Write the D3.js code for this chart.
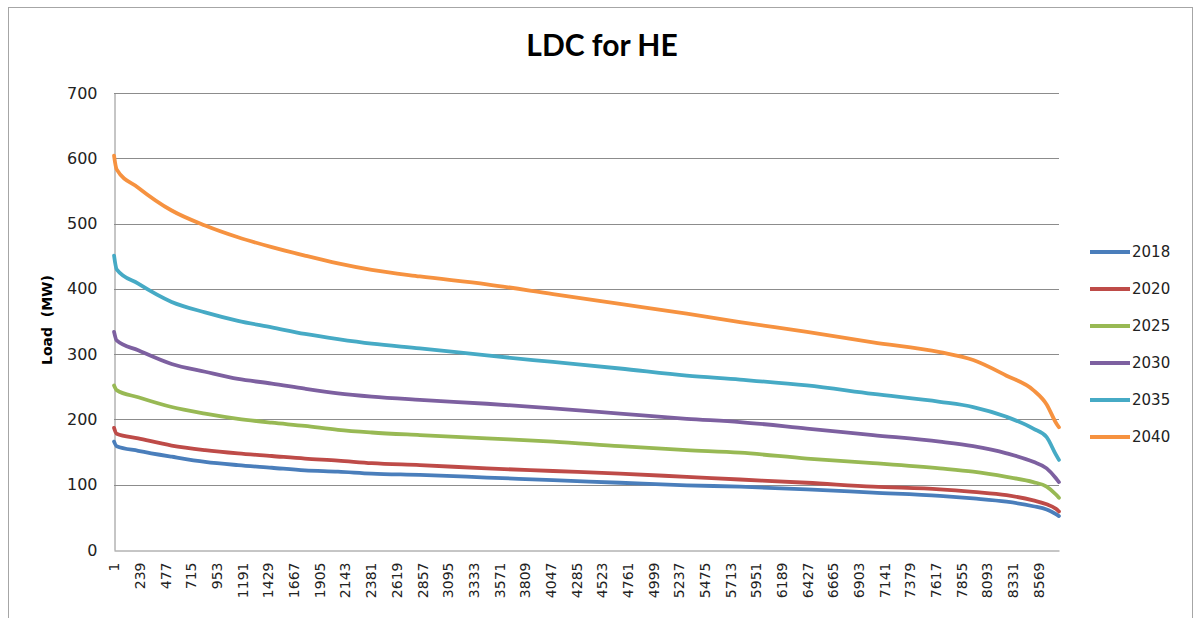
<!DOCTYPE html>
<html>
<head>
<meta charset="utf-8">
<script src="https://cdn.jsdelivr.net/npm/d3@7"></script>
<style>
  html, body { margin: 0; padding: 0; background: #fff; }
  svg { display: block; }
</style>
</head>
<body>
<svg id="chart" width="1194" height="618"></svg>
<script>
// Load duration curve: hour rank (1..8760) vs load in MW, one series per year.
const hourCount = 8760;
const hours = [1, 25, 225, 535, 845, 1150, 1463, 1770, 2077, 2390, 2836, 3457, 4070,
               4690, 5310, 5803, 6424, 7036, 7656, 7965, 8274, 8522, 8646, 8732, 8760];

const load2018 = [166, 159, 152, 143, 135, 130, 126, 122, 120, 117, 115, 111, 107,
                  103, 99, 97, 93, 88, 83, 79, 74, 67, 62, 55, 52];
const load2020 = [187, 178, 171, 160, 153, 148, 144, 140, 137, 133, 130, 125, 121,
                  117, 112, 108, 103, 97, 93, 89, 84, 76, 70, 63, 59];
const load2025 = [252, 245, 234, 219, 209, 201, 195, 190, 184, 180, 176, 171, 166,
                  159, 153, 149, 140, 133, 125, 120, 112, 104, 97, 85, 80];
const load2030 = [334, 321, 306, 285, 273, 262, 255, 247, 240, 235, 230, 224, 217,
                  209, 201, 196, 186, 176, 166, 159, 148, 135, 125, 110, 104];
const load2035 = [451, 430, 408, 380, 364, 351, 341, 331, 323, 316, 309, 298, 288,
                  278, 267, 261, 252, 239, 227, 219, 204, 186, 173, 146, 138];
const load2040 = [604, 583, 555, 520, 497, 479, 464, 451, 439, 429, 419, 407, 392,
                  377, 362, 349, 334, 318, 303, 291, 267, 245, 223, 195, 188];

const seriesNames = ["2018", "2020", "2025", "2030", "2035", "2040"];
const seriesValues = [load2018, load2020, load2025, load2030, load2035, load2040];
const seriesColors = ["#4A7EBB", "#BE4B48", "#98B954", "#7D60A0", "#46AAC5", "#F69240"];

const yTicks = [0, 100, 200, 300, 400, 500, 600, 700];
// category labels every 238 hours: 1, 239, 477, ... 8569
const xTickLabels = d3.range(1, hourCount + 1, 238);

const svg = d3.select("#chart");
const W = 1194, H = 618;

// chart frame
svg.append("rect")
  .attr("x", 8.5).attr("y", 7.5)
  .attr("width", W - 10).attr("height", H)
  .attr("fill", "#fff").attr("stroke", "#a6a6a6").attr("stroke-width", 1);

const plot = { left: 114, right: 1059, top: 93, bottom: 550 };

// category scale: one band per hour
const x = d3.scaleBand()
  .domain(d3.range(1, hourCount + 1))
  .range([plot.left, plot.right])
  .paddingInner(0).paddingOuter(0);
const xPos = h => x(h) + x.bandwidth() / 2;

const y = d3.scaleLinear().domain([0, 700]).range([plot.bottom, plot.top]);

// horizontal gridlines
svg.append("g")
  .selectAll("line")
  .data(yTicks.filter(d => d > 0))
  .join("line")
  .attr("x1", plot.left).attr("x2", plot.right)
  .attr("y1", d => Math.round(y(d)) + 0.5).attr("y2", d => Math.round(y(d)) + 0.5)
  .attr("stroke", "#8c8c8c").attr("stroke-width", 1);

// y axis
const yAxis = d3.axisLeft(y).tickValues(yTicks).tickSize(0).tickPadding(17);
const gy = svg.append("g")
  .attr("transform", `translate(${plot.left + 0.5},0)`)
  .call(yAxis);
gy.select(".domain").attr("stroke", "#8c8c8c");
gy.selectAll("text")
  .attr("font-family", "DejaVu Sans, sans-serif")
  .attr("font-size", 16)
  .attr("fill", "#222");

// x axis
const xAxis = d3.axisBottom(x).tickValues(xTickLabels).tickSize(0).tickPadding(0);
const gx = svg.append("g")
  .attr("transform", `translate(0,${plot.bottom + 0.5})`)
  .call(xAxis);
gx.select(".domain").attr("stroke", "#8c8c8c");
gx.selectAll("text")
  .attr("font-family", "DejaVu Sans, sans-serif")
  .attr("font-size", 14)
  .attr("fill", "#222")
  .attr("text-anchor", "end")
  .attr("dy", "0.35em")
  .attr("transform", "translate(0,12) rotate(-90)")
  .attr("x", 0).attr("y", 0);

// load duration curves
const line = d3.line()
  .x((d, i) => xPos(hours[i]))
  .y(d => y(d))
  .curve(d3.curveMonotoneX);

svg.append("g")
  .selectAll("path")
  .data(seriesValues)
  .join("path")
  .attr("d", d => line(d))
  .attr("fill", "none")
  .attr("stroke", (d, i) => seriesColors[i])
  .attr("stroke-width", 3.8)
  .attr("stroke-linejoin", "round")
  .attr("stroke-linecap", "round");

// title
svg.append("text")
  .attr("x", 602).attr("y", 56)
  .attr("text-anchor", "middle")
  .attr("font-family", "Lato, sans-serif")
  .attr("font-weight", "bold")
  .attr("font-size", 30)
  .attr("fill", "#000")
  .text("LDC for HE");

// y axis title
svg.append("text")
  .attr("transform", "translate(52,320) rotate(-90)")
  .attr("text-anchor", "middle")
  .attr("font-family", "DejaVu Sans, sans-serif")
  .attr("font-weight", "bold")
  .attr("font-size", 14)
  .attr("fill", "#000")
  .attr("xml:space", "preserve")
  .text("Load  (MW)");

// legend
const legend = svg.append("g")
  .selectAll("g")
  .data(seriesNames)
  .join("g")
  .attr("transform", (d, i) => `translate(1090,${252 + i * 37})`);
legend.append("line")
  .attr("x1", 0).attr("x2", 40)
  .attr("y1", 0).attr("y2", 0)
  .attr("stroke", (d, i) => seriesColors[i])
  .attr("stroke-width", 3.8);
legend.append("text")
  .attr("x", 42).attr("y", 0).attr("dy", "0.36em")
  .attr("font-family", "DejaVu Sans, sans-serif")
  .attr("font-size", 15)
  .attr("fill", "#222")
  .text(d => d);
</script>
</body>
</html>
